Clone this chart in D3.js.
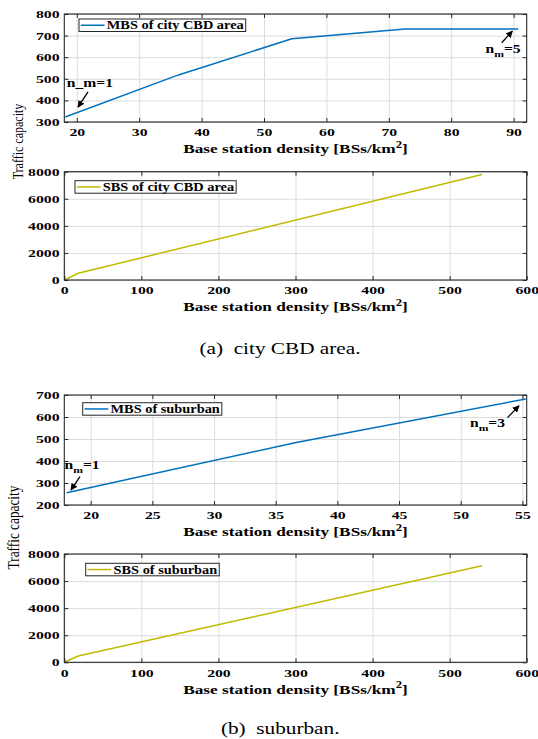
<!DOCTYPE html>
<html>
<head>
<meta charset="utf-8">
<script src="https://cdn.jsdelivr.net/npm/d3@7"></script>
<style>
  body { margin: 0; background: #fff; }
  svg { display: block; }
</style>
</head>
<body>
<svg id="chart" width="538" height="739"></svg>
<script>
/* ===================================
 *  DATA
 * =================================== */
const mbsCbdDensity = [18.15, 36.3, 54.45, 72.6, 90.75];
const mbsCbdCapacity = [323, 518, 685, 730, 730];
const sbsCbdDensity = [0, 18.1, 542];
const sbsCbdCapacity = [0, 495, 7800];
const mbsSubDensity = [18.05, 36.66, 55.27];
const mbsSubCapacity = [256, 484, 682];
const sbsSubDensity = [0, 18.1, 542];
const sbsSubCapacity = [0, 465, 7130];

const mbsCbdXTicks = [20, 30, 40, 50, 60, 70, 80, 90];
const mbsCbdYTicks = [300, 400, 500, 600, 700, 800];
const mbsSubXTicks = [20, 25, 30, 35, 40, 45, 50, 55];
const mbsSubYTicks = [200, 300, 400, 500, 600, 700];
const sbsXTicks = [0, 100, 200, 300, 400, 500, 600];
const sbsYTicks = [0, 2000, 4000, 6000, 8000];

const legendLabels = ["MBS of city CBD area", "SBS of city CBD area", "MBS of suburban", "SBS of suburban"];
const captions = ["(a)  city CBD area.", "(b)  suburban."];
const yLabel = "Traffic capacity";

// annotations: text start (tx,ty) and arrow (ax1,ay1) -> (ax2,ay2), in data units
const annotations = [
  { panel: 0, base: "n_m=1", sub: null, rest: null, tx: 18.4, ty: 462, ax1: 21.8, ay1: 439, ax2: 20.2, ay2: 369 },
  { panel: 0, base: "n", sub: "m", rest: "=5", tx: 85.5, ty: 621, ax1: 88.1, ay1: 667, ax2: 89.8, ay2: 721 },
  { panel: 2, base: "n", sub: "m", rest: "=1", tx: 17.88, ty: 364, ax1: 19.13, ay1: 329, ax2: 18.4, ay2: 268 },
  { panel: 2, base: "n", sub: "m", rest: "=3", tx: 50.75, ty: 556, ax1: 53.79, ay1: 597, ax2: 54.73, ay2: 651 }
];

/* ===================================
 *  LAYOUT
 * =================================== */
const FONT = "'Liberation Serif', 'Times New Roman', Times, serif";
const BLUE = "#0072BD";
const OLIVE = "#BFBA00";
const AXIS = "#262626";
const GRID = "#dcdcdc";

const plotLeft = 64.3, plotRight = 526.7;

const panels = [
  { top: 14, bottom: 122, xDom: [18, 92.1], yDom: [300, 800], xt: mbsCbdXTicks, yt: mbsCbdYTicks,
    xs: mbsCbdDensity, ys: mbsCbdCapacity, color: BLUE, legend: legendLabels[0], lx: 14.7, ly: 5 },
  { top: 171.7, bottom: 280, xDom: [0, 600], yDom: [0, 8000], xt: sbsXTicks, yt: sbsYTicks,
    xs: sbsCbdDensity, ys: sbsCbdCapacity, color: OLIVE, legend: legendLabels[1], lx: 10.7, ly: 9 },
  { top: 395, bottom: 505, xDom: [17.86, 55.35], yDom: [200, 700], xt: mbsSubXTicks, yt: mbsSubYTicks,
    xs: mbsSubDensity, ys: mbsSubCapacity, color: BLUE, legend: legendLabels[2], lx: 18.4, ly: 7.7 },
  { top: 554, bottom: 662.3, xDom: [0, 600], yDom: [0, 8000], xt: sbsXTicks, yt: sbsYTicks,
    xs: sbsSubDensity, ys: sbsSubCapacity, color: OLIVE, legend: legendLabels[3], lx: 21.4, ly: 9.3 }
];

const svg = d3.select("#chart").attr("font-family", FONT);

svg.append("defs").append("marker")
  .attr("id", "arrowHead")
  .attr("viewBox", "0 0 10 10")
  .attr("refX", 9).attr("refY", 5)
  .attr("markerWidth", 7).attr("markerHeight", 7)
  .attr("markerUnits", "userSpaceOnUse")
  .attr("orient", "auto")
  .append("path")
  .attr("d", "M0,0 L10,5 L0,10 Z")
  .attr("fill", "#000");

// text stretched horizontally like the source figure
function stretchText(sel, x, y, str, size, sx, anchor, weight) {
  return sel.append("text")
    .attr("transform", `translate(${x},${y}) scale(${sx},1)`)
    .attr("font-size", size)
    .attr("text-anchor", anchor || "start")
    .attr("font-weight", weight || "bold")
    .attr("fill", "#000")
    .text(str);
}

const scales = [];
const fmt = d3.format("d");

panels.forEach((p, i) => {
  const w = plotRight - plotLeft;
  const h = p.bottom - p.top;
  const x = d3.scaleLinear().domain(p.xDom).range([0, w]);
  const y = d3.scaleLinear().domain(p.yDom).range([h, 0]);
  scales.push({ x, y, p });

  const g = svg.append("g").attr("transform", `translate(${plotLeft},${p.top})`);

  // grid
  const gx = g.append("g").attr("transform", `translate(0,${h})`)
    .call(d3.axisBottom(x).tickValues(p.xt).tickSize(-h).tickFormat(""));
  const gy = g.append("g")
    .call(d3.axisLeft(y).tickValues(p.yt).tickSize(-w).tickFormat(""));
  [gx, gy].forEach(gg => {
    gg.select(".domain").remove();
    gg.selectAll("line").attr("stroke", GRID).attr("stroke-width", 1);
  });

  // data line
  const pts = p.xs.map((d, k) => [d, p.ys[k]]);
  g.append("path")
    .datum(pts)
    .attr("fill", "none")
    .attr("stroke", p.color)
    .attr("stroke-width", 1.5)
    .attr("d", d3.line().x(d => x(d[0])).y(d => y(d[1])));

  // axes with inward ticks on all four sides
  const bottomAx = g.append("g").attr("transform", `translate(0,${h})`)
    .call(d3.axisBottom(x).tickValues(p.xt).tickSizeInner(-4).tickSizeOuter(0).tickFormat(fmt));
  const leftAx = g.append("g")
    .call(d3.axisLeft(y).tickValues(p.yt).tickSizeInner(-4).tickSizeOuter(0).tickFormat(fmt));
  const topAx = g.append("g")
    .call(d3.axisTop(x).tickValues(p.xt).tickSizeInner(-4).tickSizeOuter(0).tickFormat(""));
  const rightAx = g.append("g").attr("transform", `translate(${w},0)`)
    .call(d3.axisRight(y).tickValues(p.yt).tickSizeInner(-4).tickSizeOuter(0).tickFormat(""));

  [bottomAx, leftAx, topAx, rightAx].forEach(ax => {
    ax.attr("font-family", FONT).attr("font-size", 10.5);
    ax.select(".domain").remove();
    ax.selectAll("line").attr("stroke", AXIS);
  });

  bottomAx.selectAll("text")
    .attr("y", 0).attr("dy", 0)
    .attr("font-weight", "bold").attr("fill", "#000")
    .attr("transform", "translate(0,14.2) scale(1.5,1)");
  leftAx.selectAll("text")
    .attr("x", 0).attr("dy", 0)
    .attr("font-weight", "bold").attr("fill", "#000")
    .attr("transform", "translate(-4.8,3.5) scale(1.5,1)");

  // box
  g.append("rect")
    .attr("width", w).attr("height", h)
    .attr("fill", "none")
    .attr("stroke", AXIS)
    .attr("stroke-width", 1.1);

  // x label
  const xl = stretchText(g, w / 2, h + 31.3, "", 13, 1.33, "middle");
  xl.append("tspan").text("Base station density [BSs/km");
  xl.append("tspan").attr("font-size", 9.5).attr("dy", -5.5).text("2");
  xl.append("tspan").attr("dy", 5.5).text("]");

  // legend
  const lg = g.append("g").attr("transform", `translate(${p.lx},${p.ly})`);
  const box = lg.append("rect")
    .attr("height", 12.5)
    .attr("fill", "#fff")
    .attr("stroke", AXIS)
    .attr("stroke-width", 1);
  lg.append("line")
    .attr("x1", 1.8).attr("x2", 25.5)
    .attr("y1", 6.25).attr("y2", 6.25)
    .attr("stroke", p.color).attr("stroke-width", 1.5);
  const lt = stretchText(lg, 27.8, 10.2, p.legend, 11.5, 1.25, "start");
  const tw = lt.node().getComputedTextLength() * 1.25;
  box.attr("width", 27.8 + tw + 2);
});

// annotations
annotations.forEach(a => {
  const s = scales[a.panel];
  const g = svg.append("g").attr("transform", `translate(${plotLeft},${s.p.top})`);
  const t = stretchText(g, s.x(a.tx), s.y(a.ty), "", 12, 1.3, "start");
  t.append("tspan").text(a.base);
  if (a.sub) {
    t.append("tspan").attr("font-size", 9).attr("dy", 4).text(a.sub);
    t.append("tspan").attr("dy", -4).text(a.rest);
  }
  g.append("line")
    .attr("x1", s.x(a.ax1)).attr("y1", s.y(a.ay1))
    .attr("x2", s.x(a.ax2)).attr("y2", s.y(a.ay2))
    .attr("stroke", "#000")
    .attr("stroke-width", 1.3)
    .attr("marker-end", "url(#arrowHead)");
});

// y labels (shared per figure)
[{ x: 23, y: 141.5, size: 12 }, { x: 18.5, y: 527.5, size: 13.3 }].forEach(l => {
  svg.append("text")
    .attr("transform", `translate(${l.x},${l.y}) rotate(-90) scale(1,1.25)`)
    .attr("font-size", l.size)
    .attr("text-anchor", "middle")
    .attr("fill", "#000")
    .text(yLabel);
});

// captions
stretchText(svg, 280, 354.3, captions[0], 17, 1.25, "middle", "normal").style("white-space", "pre");
stretchText(svg, 280.2, 734, captions[1], 17, 1.25, "middle", "normal").style("white-space", "pre");
</script>
</body>
</html>
